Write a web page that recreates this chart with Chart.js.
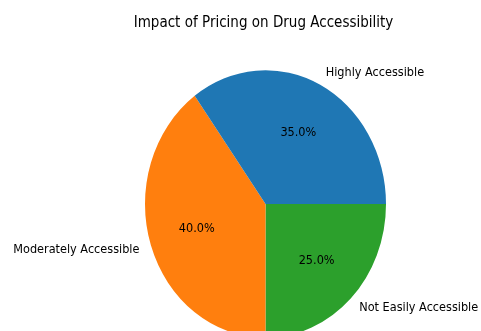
<!DOCTYPE html>
<html>
<head>
<meta charset="utf-8">
<script src="https://cdn.jsdelivr.net/npm/chart.js@4.4.1/dist/chart.umd.min.js"></script>
<style>
    html, body { margin: 0; padding: 0; background: #ffffff; }
    #wrap { width: 481px; height: 331px; }
</style>
</head>
<body>
<div id="wrap"><canvas id="pieChart" width="481" height="331"></canvas></div>
<script>
// data, in the order matplotlib lays the wedges out (counter-clockwise from 3 o'clock)
var categories = ["Highly Accessible", "Moderately Accessible", "Not Easily Accessible"];
var shares = [35, 40, 25];
var sliceColors = ["#1f77b4", "#ff7f0e", "#2ca02c"];
var chartTitle = "Impact of Pricing on Drug Accessibility";

// the reference image is stretched a bit vertically
var yStretch = 1.11;
var fontFamily = "'DejaVu Sans', sans-serif";

// Chart.js goes clockwise, so feed the wedges reversed
var labelsCw = categories.slice().reverse();
var valuesCw = shares.slice().reverse();
var colorsCw = sliceColors.slice().reverse();

var stretchPlugin = {
    id: "stretch",
    beforeDraw: function (chart) {
        chart.ctx.save();
        chart.ctx.scale(1, yStretch);
    },
    afterDraw: function (chart) {
        chart.ctx.restore();
    },
    afterDatasetsDraw: function (chart) {
        var ctx = chart.ctx;
        var meta = chart.getDatasetMeta(0);
        var total = valuesCw.reduce(function (a, b) { return a + b; }, 0);
        ctx.save();
        ctx.fillStyle = "#000000";
        ctx.textBaseline = "middle";
        meta.data.forEach(function (arc, i) {
            var mid = (arc.startAngle + arc.endAngle) / 2;
            var r = arc.outerRadius;
            var c = Math.cos(mid), s = Math.sin(mid);

            // category label at 1.1 r
            ctx.font = "11.3px " + fontFamily;
            ctx.textAlign = c > 0 ? "left" : "right";
            ctx.fillText(labelsCw[i], arc.x + 1.1 * r * c, arc.y + 1.1 * r * s);

            // percentage at 0.6 r
            ctx.textAlign = "center";
            var pct = (valuesCw[i] / total * 100).toFixed(1) + "%";
            ctx.fillText(pct, arc.x + 0.6 * r * c, arc.y + 0.6 * r * s);
        });

        // title
        ctx.font = "13.5px " + fontFamily;
        ctx.textAlign = "center";
        ctx.fillText(chartTitle, 263.5, 23.5 / yStretch);
        ctx.restore();
    }
};

var ctx = document.getElementById("pieChart").getContext("2d");
new Chart(ctx, {
    type: "pie",
    data: {
        labels: labelsCw,
        datasets: [{
            data: valuesCw,
            backgroundColor: colorsCw,
            borderWidth: 0
        }]
    },
    options: {
        responsive: false,
        animation: false,
        rotation: 90,
        layout: {
            padding: { left: 145, right: 95, top: 63.3, bottom: 26.7 }
        },
        plugins: {
            legend: { display: false },
            title: { display: false },
            tooltip: { enabled: false }
        }
    },
    plugins: [stretchPlugin]
});
</script>
</body>
</html>
